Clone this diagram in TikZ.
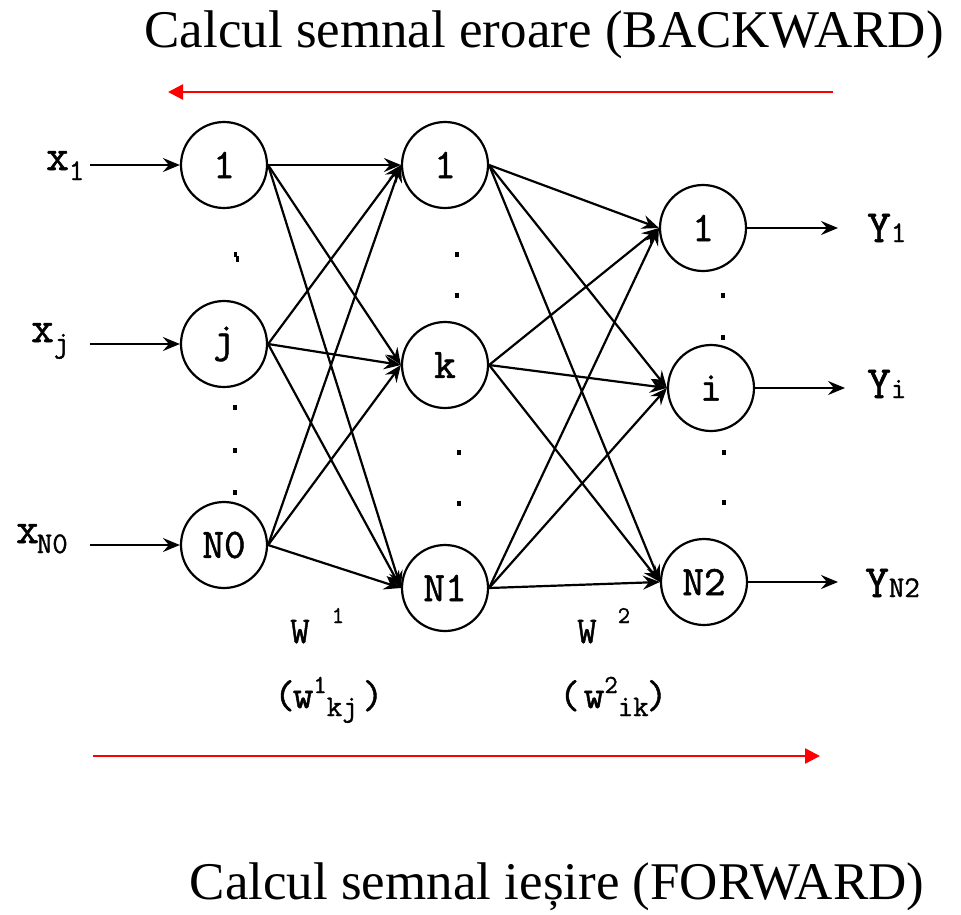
\documentclass[tikz,border=0pt]{standalone}
\usepackage{fontspec}
\setmainfont{Liberation Serif}
\newfontfamily\lbf{Latin Modern Mono}[FakeBold=1.2]
\usetikzlibrary{arrows.meta}
\newcommand{\fsz}[1]{\fontsize{#1}{#1}\selectfont}
\begin{document}
\begin{tikzpicture}[x=1pt,y=-1pt,
  neuron/.style={circle,draw,line width=2.2pt,minimum size=86pt,inner sep=0pt,font=\lbf\fsz{42}},
  conn/.style={line width=2.2pt,-{Stealth[length=17pt,width=14pt,inset=6pt]}},
  redarr/.style={red,line width=2.5pt,-{Triangle[length=15pt,width=15pt]}},
  lbl/.style={inner sep=0pt,anchor=base west,font=\lbf},
  ttl/.style={inner sep=0pt,anchor=base,font=\fsz{53}}]
\useasboundingbox (0,0) rectangle (961,914);

% titles
\node[ttl] (t1) at (544,47) {Calcul semnal eroare (BACKWARD)};
\node[ttl] (t2) at (557,899) {Calcul semnal ieșire (FORWARD)};

% red arrows
\coordinate (r1s) at (833,92);
\coordinate (r1e) at (168,92);
\draw[redarr] (r1s) -- (r1e);
\coordinate (r2s) at (93,756);
\coordinate (r2e) at (820,756);
\draw[redarr] (r2s) -- (r2e);

% neurons
\node[neuron] (a1) at (224,165) {1};
\node[neuron] (aj) at (224,344) {j};
\node[neuron] (an) at (224,545) {N0};
\node[neuron] (b1) at (445,165) {1};
\node[neuron] (bk) at (445,365) {k};
\node[neuron] (bn) at (445,588) {N1};
\node[neuron] (c1) at (703,228) {1};
\node[neuron] (ci) at (711,388) {i};
\node[neuron] (cn) at (704,582) {N2};

% connections
\foreach \s in {a1,aj,an}
  \foreach \t in {b1,bk,bn}
    \draw[conn] (\s.east) -- (\t.west);
\foreach \s in {b1,bk,bn}
  \foreach \t in {c1,ci,cn}
    \draw[conn] (\s.east) -- (\t.west);

% inputs
\coordinate (i1) at (90,165);
\coordinate (ij) at (90,344);
\coordinate (in) at (90,545);
\draw[conn] (i1) -- (a1);
\draw[conn] (ij) -- (aj);
\draw[conn] (in) -- (an);
\node[lbl] (x1) at (46,170) {\fsz{44}x\raisebox{-10pt}{\fsz{30}1}};
\node[lbl] (xj) at (31,342) {\fsz{44}x\raisebox{-10pt}{\fsz{30}j}};
\node[lbl] (xn) at (16,543) {\fsz{44}x\kern-2pt\raisebox{-10pt}{\fsz{30}N0}};

% outputs
\coordinate (o1) at (838,228);
\coordinate (oi) at (845,388);
\coordinate (on) at (838,582);
\draw[conn] (c1) -- (o1);
\draw[conn] (ci) -- (oi);
\draw[conn] (cn) -- (on);
\node[lbl] (y1) at (867,242) {\fsz{46}Y{\fsz{30}1}};
\node[lbl] (yi) at (867,398) {\fsz{46}Y{\fsz{30}i}};
\node[lbl] (yn) at (865,597) {\fsz{46}Y{\fsz{30}N2}};

% weight labels
\node[lbl] (w1) at (290,643) {\fsz{38}W\hspace{22pt}\raisebox{20pt}{\fsz{24}1}};
\node[lbl] (w2) at (577,643) {\fsz{38}W\hspace{21pt}\raisebox{20pt}{\fsz{24}2}};
\node[lbl] (w1kj) at (274,708) {\fsz{40}(\kern-2pt w\raisebox{15pt}{\fsz{26}1}\raisebox{-8pt}{\fsz{30}kj}\hspace{5pt})};
\node[lbl] (w2ik) at (559,708) {\fsz{40}(\hspace{4pt}w\raisebox{15pt}{\fsz{26}2}\raisebox{-8pt}{\fsz{30}ik}\kern-2pt)};

% ellipsis dots
\fill (234,252) rectangle (237,257);
\fill (236,256) rectangle (239,262);
\fill (233,405) rectangle (237,410);
\fill (233,448) rectangle (237,453);
\fill (233,490) rectangle (237,495);
\fill (455,252) rectangle (459,257);
\fill (455,293) rectangle (459,298);
\fill (457,450) rectangle (461,455);
\fill (457,501) rectangle (461,506);
\fill (721,293) rectangle (725,298);
\fill (721,335) rectangle (725,340);
\fill (722,450) rectangle (726,455);
\fill (722,500) rectangle (726,505);
\end{tikzpicture}
\end{document}
